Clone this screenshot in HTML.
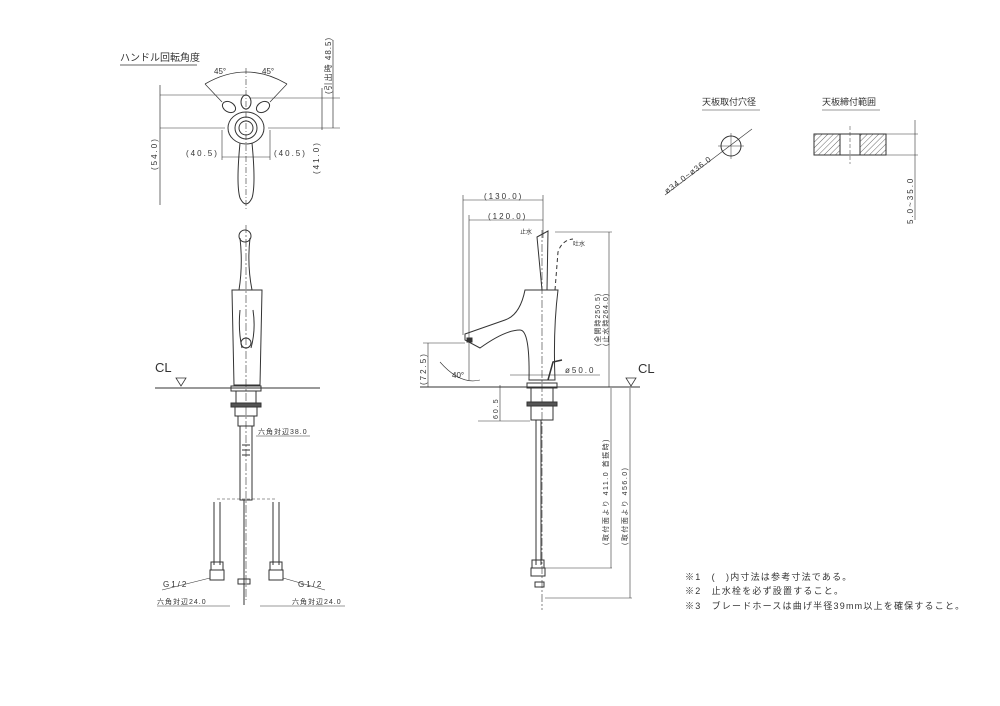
<!DOCTYPE html>
<html><head><meta charset="utf-8"><style>
body{margin:0;background:#fff}
svg{display:block}
text{font-family:"Liberation Sans","Noto Sans CJK JP",sans-serif;fill:#333}
.d{letter-spacing:2px}
</style></head><body>
<svg width="1000" height="706" viewBox="0 0 1000 706" xmlns="http://www.w3.org/2000/svg" fill="none" stroke="#333" stroke-width="1">
<defs><pattern id="h" width="4" height="4" patternUnits="userSpaceOnUse" patternTransform="rotate(45)"><line x1="0" y1="0" x2="0" y2="4" stroke="#444" stroke-width="0.8"/></pattern></defs>
<!-- Top view -->
<text x="120" y="61" font-size="10" stroke="none">ハンドル回転角度</text>
<line x1="120" y1="65" x2="197" y2="65" stroke-width="0.8"/>
<line x1="246" y1="68" x2="246" y2="210" stroke-dasharray="6,2,1,2" stroke-width="0.6"/>
<path d="M205 84 Q246 60 287 84" stroke-width="0.8"/>
<line x1="205" y1="84" x2="222" y2="102" stroke-width="0.7"/>
<line x1="287" y1="84" x2="270" y2="102" stroke-width="0.7"/>
<text x="214" y="74" font-size="8" stroke="none">45°</text>
<text x="262" y="74" font-size="8" stroke="none">45°</text>
<line x1="160" y1="85" x2="160" y2="205" stroke-width="0.7"/>
<line x1="160" y1="95" x2="245" y2="95" stroke-width="0.6"/>
<line x1="160" y1="128" x2="225" y2="128" stroke-width="0.6"/>
<text class="d" transform="translate(157,170) rotate(-90)" font-size="8" stroke="none">(54.0)</text>
<line x1="322" y1="88" x2="322" y2="130" stroke-width="0.7"/>
<line x1="333" y1="40" x2="333" y2="128" stroke-width="0.7"/>
<line x1="250" y1="98" x2="340" y2="98" stroke-width="0.6"/>
<line x1="268" y1="128" x2="340" y2="128" stroke-width="0.6"/>
<text class="d" transform="translate(319,174) rotate(-90)" font-size="8" stroke="none">(41.0)</text>
<text transform="translate(331,94) rotate(-90)" font-size="8" stroke="none" letter-spacing="1">(引出時 48.5)</text>
<line x1="222" y1="130" x2="222" y2="160" stroke-width="0.6"/>
<line x1="270" y1="130" x2="270" y2="160" stroke-width="0.6"/>
<line x1="222" y1="157" x2="270" y2="157" stroke-width="0.6"/>
<text class="d" x="186" y="156" font-size="8" stroke="none">(40.5)</text>
<text class="d" x="274" y="156" font-size="8" stroke="none">(40.5)</text>
<ellipse cx="246" cy="102" rx="5" ry="7"/>
<ellipse cx="229" cy="107" rx="7" ry="5" transform="rotate(30 229 107)"/>
<ellipse cx="263" cy="107" rx="7" ry="5" transform="rotate(-30 263 107)"/>
<ellipse cx="246" cy="128" rx="18" ry="16"/>
<circle cx="246" cy="128" r="11"/><circle cx="246" cy="128" r="7"/>
<path d="M240 143 Q236 185 240 198 Q246 210 252 198 Q256 185 252 143"/>
<!-- Front view -->
<circle cx="245" cy="236" r="6"/>
<path d="M240 238 Q243 265 239 290 M250 238 Q247 265 252 290"/>
<path d="M232 290 L262 290 L260 385 L234 385 Z"/>
<path d="M240 310 Q238 330 242 348 M253 310 Q256 330 251 348"/>
<circle cx="246" cy="343" r="5"/>
<line x1="246" y1="225" x2="246" y2="600" stroke-dasharray="8,2,2,2" stroke-width="0.6"/>
<line x1="155" y1="388" x2="320" y2="388"/>
<text x="155" y="372" font-size="13" stroke="none">CL</text>
<path d="M176 378 L186 378 L181 386 Z" stroke-width="0.8"/>
<rect x="231" y="386" width="30" height="5"/>
<rect x="236" y="391" width="20" height="12"/>
<rect x="231" y="403" width="30" height="4" fill="#555"/>
<rect x="235" y="407" width="22" height="9"/>
<rect x="238" y="416" width="16" height="10"/>
<rect x="240" y="426" width="12" height="74"/>
<line x1="242" y1="445" x2="250" y2="445"/><line x1="242" y1="450" x2="250" y2="450"/><line x1="242" y1="455" x2="250" y2="455"/>
<text x="258" y="434" font-size="7" stroke="none" letter-spacing="1">六角対辺38.0</text>
<line x1="256" y1="436" x2="310" y2="436" stroke-width="0.6"/>
<line x1="217" y1="499" x2="275" y2="499" stroke-dasharray="3,2" stroke-width="0.6"/>
<path d="M214 502 L214 565 M220 502 L220 565 M273 502 L273 565 M279 502 L279 565"/>
<rect x="211" y="562" width="12" height="8"/><rect x="210" y="570" width="14" height="10"/>
<rect x="270" y="562" width="12" height="8"/><rect x="269" y="570" width="14" height="10"/>
<rect x="238" y="579" width="12" height="5"/>
<line x1="244" y1="500" x2="244" y2="605"/>
<text class="d" x="163" y="587" font-size="8" stroke="none">G1/2</text>
<line x1="162" y1="590" x2="210" y2="578" stroke-width="0.6"/>
<text class="d" x="298" y="587" font-size="8" stroke="none">G1/2</text>
<line x1="283" y1="578" x2="325" y2="590" stroke-width="0.6"/>
<text x="157" y="604" font-size="7" stroke="none" letter-spacing="1">六角対辺24.0</text>
<line x1="157" y1="606" x2="230" y2="606" stroke-width="0.6"/>
<text x="292" y="604" font-size="7" stroke="none" letter-spacing="1">六角対辺24.0</text>
<line x1="260" y1="606" x2="345" y2="606" stroke-width="0.6"/>
<!-- Side view -->
<line x1="463" y1="195" x2="463" y2="335" stroke-width="0.6"/>
<line x1="469" y1="215" x2="469" y2="380" stroke-width="0.6"/>
<line x1="543" y1="195" x2="543" y2="238" stroke-width="0.6"/>
<line x1="463" y1="200" x2="543" y2="200" stroke-width="0.6"/>
<line x1="469" y1="220" x2="543" y2="220" stroke-width="0.6"/>
<text class="d" x="484" y="199" font-size="8" stroke="none">(130.0)</text>
<text class="d" x="488" y="219" font-size="8" stroke="none">(120.0)</text>
<path d="M537 237 L548 231 L547 290 L542 290 Z"/>
<path d="M555 290 L558 252 Q562 240 573 239" stroke-dasharray="4,3"/>
<text x="520" y="234" font-size="6" stroke="none">止水</text>
<text x="573" y="246" font-size="6" stroke="none">吐水</text>
<path d="M465 334 L505 320 Q520 315 525 290 L558 290 Q553 330 555 380 L529 380 Q530 330 520 330 Q505 330 480 348 L465 340 Z"/>
<rect x="467" y="338" width="5" height="4" fill="#333"/>
<path d="M548 380 L553 362 L562 360" stroke-width="1.5"/>
<line x1="542" y1="230" x2="542" y2="610" stroke-dasharray="8,2,2,2" stroke-width="0.6"/>
<line x1="420" y1="387" x2="640" y2="387"/>
<text x="638" y="373" font-size="13" stroke="none">CL</text>
<path d="M626 378 L636 378 L631 386 Z" stroke-width="0.8"/>
<line x1="423" y1="343" x2="465" y2="343" stroke-width="0.6"/>
<line x1="428" y1="343" x2="428" y2="387" stroke-width="0.6"/>
<text class="d" transform="translate(426,385) rotate(-90)" font-size="8" stroke="none">(72.5)</text>
<path d="M440 362 Q460 385 480 380" stroke-width="0.6"/>
<text x="452" y="378" font-size="8" stroke="none">40°</text>
<line x1="510" y1="375" x2="600" y2="375" stroke-width="0.6"/>
<text class="d" x="565" y="373" font-size="8" stroke="none">ø50.0</text>
<line x1="555" y1="232" x2="612" y2="232" stroke-width="0.6"/>
<line x1="609" y1="232" x2="609" y2="387" stroke-width="0.6"/>
<text transform="translate(600,346) rotate(-90)" font-size="7" stroke="none" letter-spacing="1">(全開時250.5)</text>
<text transform="translate(608,346) rotate(-90)" font-size="7" stroke="none" letter-spacing="1">(止水時264.0)</text>
<rect x="527" y="383" width="30" height="5"/>
<rect x="531" y="388" width="22" height="14"/>
<rect x="527" y="402" width="30" height="4" fill="#555"/>
<rect x="531" y="406" width="22" height="14"/>
<line x1="478" y1="421" x2="530" y2="421" stroke-width="0.6"/>
<line x1="500" y1="385" x2="500" y2="421" stroke-width="0.6"/>
<text class="d" transform="translate(498,419) rotate(-90)" font-size="7" stroke="none">60.5</text>
<path d="M536 420 L536 565 M541 420 L541 565"/>
<rect x="532" y="560" width="12" height="8"/><rect x="531" y="568" width="14" height="8"/><rect x="535" y="582" width="9" height="5"/>
<line x1="545" y1="568" x2="612" y2="568" stroke-width="0.6"/>
<line x1="545" y1="598" x2="632" y2="598" stroke-width="0.6"/>
<line x1="611" y1="388" x2="611" y2="568" stroke-width="0.6"/>
<line x1="630" y1="388" x2="630" y2="598" stroke-width="0.6"/>
<text transform="translate(608,545) rotate(-90)" font-size="7" stroke="none" letter-spacing="1.5">(取付面より 411.0 首振時)</text>
<text transform="translate(627,545) rotate(-90)" font-size="7" stroke="none" letter-spacing="1.5">(取付面より 456.0)</text>
<!-- Right details -->
<text x="702" y="105" font-size="9" stroke="none">天板取付穴径</text>
<line x1="702" y1="110" x2="760" y2="110" stroke-width="0.6"/>
<circle cx="731" cy="146" r="10"/>
<line x1="718" y1="146" x2="744" y2="146" stroke-width="0.5"/><line x1="731" y1="133" x2="731" y2="159" stroke-width="0.5"/>
<line x1="665" y1="195" x2="752" y2="129" stroke-width="0.6"/>
<text transform="translate(667,194) rotate(-37)" font-size="8" stroke="none" letter-spacing="1">ø34.0~ø36.0</text>
<text x="822" y="105" font-size="9" stroke="none">天板締付範囲</text>
<line x1="822" y1="110" x2="880" y2="110" stroke-width="0.6"/>
<rect x="814" y="134" width="26" height="21" fill="url(#h)"/>
<rect x="860" y="134" width="26" height="21" fill="url(#h)"/>
<line x1="840" y1="134" x2="860" y2="134"/><line x1="840" y1="155" x2="860" y2="155"/>
<line x1="850" y1="126" x2="850" y2="164" stroke-dasharray="4,2" stroke-width="0.5"/>
<line x1="886" y1="134" x2="918" y2="134" stroke-width="0.6"/>
<line x1="886" y1="155" x2="918" y2="155" stroke-width="0.6"/>
<line x1="915" y1="120" x2="915" y2="220" stroke-width="0.6"/>
<text class="d" transform="translate(913,224) rotate(-90)" font-size="8" stroke="none">5.0~35.0</text>
<!-- Notes -->
<text x="685" y="580" font-size="9" stroke="none" letter-spacing="1.2">※1　(　)内寸法は参考寸法である。</text>
<text x="685" y="594" font-size="9" stroke="none" letter-spacing="1.2">※2　止水栓を必ず設置すること。</text>
<text x="685" y="609" font-size="9" stroke="none" letter-spacing="1.2">※3　ブレードホースは曲げ半径39mm以上を確保すること。</text>
</svg>
</body></html>
